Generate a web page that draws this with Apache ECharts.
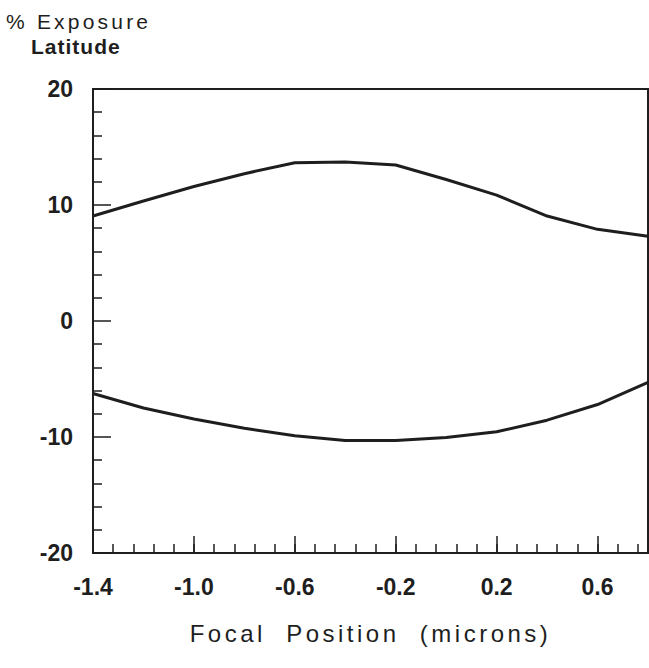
<!DOCTYPE html>
<html>
<head>
<meta charset="utf-8">
<script src="https://cdn.jsdelivr.net/npm/echarts@6/dist/echarts.min.js"></script>
<style>
  html, body { margin: 0; padding: 0; background: #fff; }
  #chart { width: 649px; height: 668px; }
</style>
</head>
<body>
<div id="chart"></div>
<script>
// Focal positions (microns) at which exposure latitude was evaluated
const focalPosition = [-1.4, -1.2, -1.0, -0.8, -0.6, -0.4, -0.2, 0.0, 0.2, 0.4, 0.6, 0.8];
// Upper and lower exposure-latitude bounds (%)
const upperLatitude = [9.05, 10.35, 11.6, 12.7, 13.65, 13.7, 13.45, 12.2, 10.85, 9.05, 7.9, 7.3];
const lowerLatitude = [-6.25, -7.5, -8.45, -9.25, -9.9, -10.3, -10.3, -10.05, -9.55, -8.55, -7.2, -5.3];

// Labelled ticks
const xTickLabels = [-1.4, -1.0, -0.6, -0.2, 0.2, 0.6];
const yTickLabels = [-20, -10, 0, 10, 20];

const xMin = -1.4, xMax = 0.8, xMinorStep = 0.08;
const xMinorTicks = [];
for (let v = xMin; v <= xMax + 1e-9; v += xMinorStep) xMinorTicks.push(+v.toFixed(2));

const ink = '#1e1e1e';
const sans = 'Liberation Sans';
const labelFont = { fontFamily: sans, fontWeight: 'bold', fontSize: 23, color: ink };

const titleTop = '% Exposure';
const titleBottom = 'Latitude';
const xName = 'Focal  Position  (microns)';
// Extra tracking for the typeset captions
const tracking = { [titleTop]: '3.2px', [titleBottom]: '1px', [xName]: '3.5px' };

const chart = echarts.init(document.getElementById('chart'), null, { renderer: 'svg' });

function applyTracking() {
  chart.getDom().querySelectorAll('text').forEach(t => {
    const ls = tracking[t.textContent];
    if (ls) t.style.letterSpacing = ls;
  });
}
chart.on('finished', applyTracking);

chart.setOption({
  animation: false,
  backgroundColor: '#fff',
  title: [
    { text: titleTop, left: 6, top: 11, padding: 0,
      textStyle: { fontFamily: sans, fontWeight: 'normal', fontSize: 21, color: ink } },
    { text: titleBottom, left: 31, top: 36, padding: 0,
      textStyle: { fontFamily: sans, fontWeight: 'bold', fontSize: 21, color: ink } }
  ],
  grid: {
    left: 93, right: 1, top: 89, bottom: 115,
    show: true, borderColor: ink, borderWidth: 2, backgroundColor: 'transparent'
  },
  xAxis: [
    {
      type: 'value', min: xMin, max: xMax, position: 'bottom',
      name: xName, nameLocation: 'middle', nameGap: 68,
      nameTextStyle: { fontFamily: sans, fontSize: 24, color: ink },
      axisLine: { show: true, onZero: false, lineStyle: { color: ink, width: 2 } },
      axisTick: { show: true, inside: true, length: 17, customValues: xTickLabels,
                  lineStyle: { color: ink, width: 1.5 } },
      axisLabel: { customValues: xTickLabels, margin: 22, ...labelFont,
                   formatter: v => v.toFixed(1) },
      splitLine: { show: false }
    },
    {
      type: 'value', min: xMin, max: xMax, position: 'bottom',
      axisLine: { show: false, onZero: false },
      axisTick: { show: true, inside: true, length: 9, customValues: xMinorTicks,
                  lineStyle: { color: ink, width: 1.5 } },
      axisLabel: { show: false },
      splitLine: { show: false }
    }
  ],
  yAxis: {
    type: 'value', min: -20, max: 20, interval: 10,
    axisLine: { show: true, onZero: false, lineStyle: { color: ink, width: 2 } },
    axisTick: { show: true, inside: true, length: 18, customValues: yTickLabels,
                lineStyle: { color: ink, width: 1.5 } },
    minorTick: { show: true, splitNumber: 5, length: 9, lineStyle: { color: ink, width: 1.5 } },
    axisLabel: { customValues: yTickLabels, margin: 20, padding: [5, 0, 0, 0], ...labelFont },
    splitLine: { show: false },
    minorSplitLine: { show: false }
  },
  series: [
    {
      name: 'Upper', type: 'line', xAxisIndex: 0, symbol: 'none',
      data: focalPosition.map((x, i) => [x, upperLatitude[i]]),
      lineStyle: { color: ink, width: 3 }
    },
    {
      name: 'Lower', type: 'line', xAxisIndex: 0, symbol: 'none',
      data: focalPosition.map((x, i) => [x, lowerLatitude[i]]),
      lineStyle: { color: ink, width: 3 }
    }
  ]
});
applyTracking();
</script>
</body>
</html>
